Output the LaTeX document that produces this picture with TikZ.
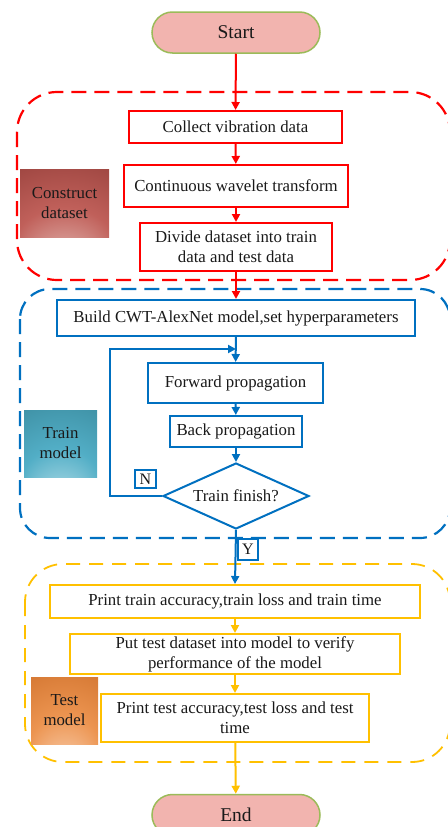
\documentclass[tikz,border=0pt]{standalone}
\usepackage{fontspec}
\setmainfont{Liberation Serif}
\usetikzlibrary{shapes.geometric,arrows.meta}
\definecolor{cred}{HTML}{FF0000}
\definecolor{cblue}{HTML}{0070C0}
\definecolor{cyel}{HTML}{FFC000}
\definecolor{cpink}{HTML}{F2B4AF}
\definecolor{cgreen}{HTML}{9BBB59}
\definecolor{redL}{HTML}{E8C4BE}
\definecolor{redM}{HTML}{C0605A}
\definecolor{redD}{HTML}{7A2A26}
\definecolor{tealL}{HTML}{C4E6EE}
\definecolor{tealM}{HTML}{52AEC6}
\definecolor{tealD}{HTML}{2A7282}
\definecolor{orL}{HTML}{FBD8BE}
\definecolor{orM}{HTML}{EC9450}
\definecolor{orD}{HTML}{BC5A14}
\pgfdeclareradialshading{redglow}{\pgfpoint{0bp}{-50bp}}{color(0bp)=(redL); color(28bp)=(redM); color(75bp)=(redD)}
\pgfdeclareradialshading{tealglow}{\pgfpoint{0bp}{-50bp}}{color(0bp)=(tealL); color(28bp)=(tealM); color(75bp)=(tealD)}
\pgfdeclareradialshading{orglow}{\pgfpoint{0bp}{-50bp}}{color(0bp)=(orL); color(28bp)=(orM); color(75bp)=(orD)}
\tikzset{
  txt/.style={font=\fontsize{16.8}{20}\selectfont, text=black!90, align=center, inner sep=0pt},
  terminal/.style={txt, font=\fontsize{19.5}{22}\selectfont, draw=cgreen, fill=cpink, line width=1.5pt, rounded corners=20.5pt, minimum width=168pt, minimum height=41pt},
  redbox/.style={txt, draw=cred, fill=white, line width=2pt},
  bluebox/.style={txt, draw=cblue, fill=white, line width=2pt},
  yelbox/.style={txt, draw=cyel, fill=white, line width=2pt},
  tagbox/.style={txt, inner sep=0pt},
  yn/.style={txt, draw=cblue, fill=white, line width=2pt, font=\fontsize{16}{18}\selectfont},
  region/.style={line width=2.2pt, dash pattern=on 15pt off 8pt},
  redarrow/.style={draw=cred, line width=2pt, -{Triangle[length=8pt,width=8pt]}},
  bluearrow/.style={draw=cblue, line width=2pt, -{Triangle[length=8pt,width=8pt]}},
  yelarrow/.style={draw=cyel, line width=2pt, -{Triangle[length=8pt,width=8pt]}},
}
\begin{document}
\begin{tikzpicture}[x=1pt,y=-1pt]
\useasboundingbox (0,0) rectangle (447,827);
% regions
\draw[region, cred, rounded corners=40pt] (17,92) rectangle (450,280);
\draw[region, cblue, rounded corners=30pt] (20,289) rectangle (450,538);
\draw[region, cyel, line width=1.8pt, dash pattern=on 14pt off 9pt, rounded corners=38pt] (25,564) rectangle (450,762);
% tag boxes
\node[tagbox, shading=redglow, minimum width=89pt, minimum height=68pt] (tagc) at (64.5,203) {Construct\\dataset};
\node[tagbox, shading=tealglow, minimum width=73pt, minimum height=67pt] (tagt) at (60.5,443.5) {Train\\model};
\node[tagbox, shading=orglow, minimum width=67pt, minimum height=67pt] (tage) at (64.5,710.5) {Test\\model};
% nodes
\node[terminal] (start) at (236,32.5) {Start};
\node[redbox, minimum width=213pt, minimum height=32pt] (c1) at (235.5,127) {Collect vibration data};
\node[redbox, minimum width=224pt, minimum height=42pt] (c2) at (236,186) {Continuous wavelet transform};
\node[redbox, minimum width=192pt, minimum height=48pt] (c3) at (236,247) {Divide dataset into train\\data and test data};
\node[bluebox, minimum width=358pt, minimum height=36pt] (b1) at (236,318) {Build CWT-AlexNet model,set hyperparameters};
\node[bluebox, minimum width=175pt, minimum height=40pt] (b2) at (235.5,383) {Forward propagation};
\node[bluebox, minimum width=132pt, minimum height=31pt] (b3) at (236,431.5) {Back propagation};
\node[txt, draw=cblue, fill=white, line width=2pt, diamond, aspect=2.2, minimum width=146pt, minimum height=66pt] (dia) at (236,496) {Train finish?};
\node[yelbox, minimum width=370pt, minimum height=33pt] (y1) at (235,601.5) {Print train accuracy,train loss and train time};
\node[yelbox, minimum width=330pt, minimum height=40pt] (y2) at (235,654) {Put test dataset into model to verify\\performance of the model};
\node[yelbox, minimum width=268pt, minimum height=48pt] (y3) at (235,718) {Print test accuracy,test loss and test\\time};
\node[terminal] (end) at (236,815) {End};
% connectors
\draw[redarrow] (start) -- (c1);
\draw[redarrow] (c1) -- (c2);
\draw[redarrow] (c2) -- (c3);
\draw[redarrow] (c3) -- (b1);
\draw[bluearrow] (b1) -- (b2);
\draw[bluearrow] (b2) -- (b3);
\draw[bluearrow] (b3) -- (dia);
\coordinate (lp) at (110,349);
\coordinate (jn) at (236,349);
\draw[bluearrow] (dia.west) -| (lp) -- (jn);
\draw[bluearrow] (dia.south) -- (y1.north);
\draw[yelarrow] (y1) -- (y2);
\draw[yelarrow] (y2) -- (y3);
\draw[yelarrow] (y3) -- (end);
% Y / N
\node[yn, minimum width=21pt, minimum height=18pt] (nlab) at (145.5,479) {N};
\node[yn, minimum width=20pt, minimum height=21pt] (ylab) at (248,549.5) {Y};
\end{tikzpicture}
\end{document}
